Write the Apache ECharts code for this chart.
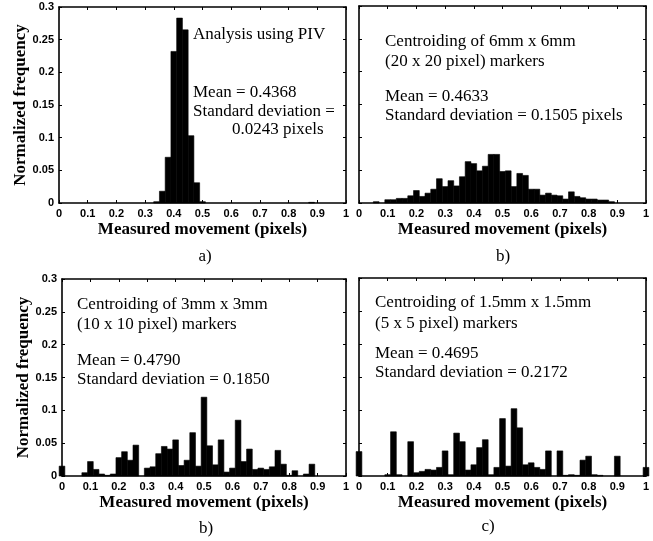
<!DOCTYPE html>
<html>
<head>
<meta charset="utf-8">
<script src="https://cdn.jsdelivr.net/npm/echarts@6/dist/echarts.min.js"></script>
<style>
  html, body { margin: 0; padding: 0; background: #fff; }
  #main { width: 653px; height: 541px; }
</style>
</head>
<body>
<div id="main"></div>
<script>
// histogram bins (centre of bin, normalized frequency)
var pivX = [0.34, 0.36, 0.38, 0.40, 0.42, 0.44, 0.46, 0.48, 0.50, 0.88];
var pivY = [0.002, 0.018, 0.070, 0.232, 0.283, 0.265, 0.103, 0.031, 0.002, 0.001];

var mm6X = [0.06, 0.10, 0.12, 0.14, 0.16, 0.18, 0.20, 0.22, 0.24, 0.26, 0.28, 0.30, 0.32, 0.34, 0.36, 0.38, 0.40,
            0.42, 0.44, 0.46, 0.48, 0.50, 0.52, 0.54, 0.56, 0.58, 0.60, 0.62, 0.64, 0.66, 0.68, 0.70, 0.72, 0.74,
            0.76, 0.78, 0.80, 0.82, 0.84, 0.86, 0.88];
var mm6Y = [0.002, 0.005, 0.005, 0.007, 0.007, 0.011, 0.019, 0.010, 0.015, 0.021, 0.037, 0.025, 0.034, 0.026, 0.040, 0.063, 0.060,
            0.049, 0.056, 0.074, 0.074, 0.048, 0.049, 0.025, 0.045, 0.042, 0.021, 0.021, 0.012, 0.015, 0.012, 0.011, 0.006, 0.017,
            0.010, 0.008, 0.006, 0.006, 0.0045, 0.0045, 0.002];

var mm3X = [0.00, 0.08, 0.10, 0.12, 0.14, 0.16, 0.18, 0.20, 0.22, 0.24, 0.26, 0.30, 0.32, 0.34, 0.36, 0.38, 0.40, 0.42,
            0.44, 0.46, 0.48, 0.50, 0.52, 0.54, 0.56, 0.58, 0.60, 0.62, 0.64, 0.66, 0.68, 0.70, 0.72, 0.74, 0.76, 0.78,
            0.80, 0.82, 0.86, 0.88];
var mm3Y = [0.015, 0.005, 0.022, 0.010, 0.003, 0.001, 0.003, 0.028, 0.037, 0.024, 0.047, 0.012, 0.014, 0.034, 0.045, 0.041, 0.055, 0.016,
            0.024, 0.066, 0.015, 0.120, 0.046, 0.017, 0.055, 0.006, 0.012, 0.085, 0.022, 0.041, 0.010, 0.012, 0.010, 0.014, 0.039, 0.018,
            0.001, 0.008, 0.003, 0.018];

var mm15X = [0.00, 0.10, 0.12, 0.14, 0.18, 0.20, 0.22, 0.24, 0.26, 0.28, 0.30, 0.32, 0.34, 0.36, 0.38, 0.40, 0.42, 0.44,
             0.46, 0.48, 0.50, 0.52, 0.54, 0.56, 0.58, 0.60, 0.62, 0.64, 0.66, 0.70, 0.72, 0.74, 0.76, 0.78, 0.80, 0.82,
             0.84, 0.90, 1.00];
var mm15Y = [0.037, 0.002, 0.067, 0.002, 0.052, 0.005, 0.007, 0.010, 0.009, 0.013, 0.038, 0.002, 0.065, 0.052, 0.009, 0.017, 0.043, 0.055,
             0.002, 0.013, 0.087, 0.015, 0.102, 0.073, 0.017, 0.020, 0.013, 0.010, 0.038, 0.038, 0.001, 0.002, 0.001, 0.024, 0.030, 0.002,
             0.001, 0.030, 0.013];

var BIN = 0.02;
var xName = 'Measured movement (pixels)';
var yName = 'Normalized frequency';

var sans = '"Liberation Sans", Arial, sans-serif';
var serif = '"Liberation Serif", "Times New Roman", serif';

//面板位置
var grids = [
    {left: 59, top: 7, width: 287, height: 196},
    {left: 359, top: 6, width: 287, height: 197},
    {left: 62, top: 279, width: 284, height: 197},
    {left: 359, top: 278, width: 287, height: 198}
];

function renderBar(params, api) {
    var x = api.value(0), y = api.value(1);
    var p0 = api.coord([x - BIN / 2, y]);
    var p1 = api.coord([x + BIN / 2, 0]);
    return {
        type: 'rect',
        shape: {x: p0[0], y: p0[1], width: p1[0] - p0[0], height: p1[1] - p0[1]},
        style: {fill: '#000', stroke: '#000', lineWidth: 0.6}
    };
}

function pairs(xs, ys) {
    return xs.map(function (x, i) { return [x, ys[i]]; });
}

var xAxes = [], yAxes = [], seriesArr = [];
grids.forEach(function (g, i) {
    var frameLine = {show: true, onZero: false, lineStyle: {color: '#000', width: 1.6}};
    var tick = {show: true, inside: true, length: 3, lineStyle: {color: '#000', width: 1}};
    var tickLabel = {fontFamily: sans, fontWeight: 'bold', fontSize: 11, color: '#000', margin: 5};
    xAxes.push({
        type: 'value', gridIndex: i, position: 'bottom', min: 0, max: 1, interval: 0.1,
        axisLine: frameLine, axisTick: tick, splitLine: {show: false},
        axisLabel: tickLabel,
        name: xName, nameLocation: 'middle', nameGap: 18,
        nameTextStyle: {fontFamily: serif, fontWeight: 'bold', fontSize: 17, color: '#000'}
    });
    xAxes.push({
        type: 'value', gridIndex: i, position: 'top', min: 0, max: 1, interval: 0.1,
        axisLine: frameLine, axisTick: tick, splitLine: {show: false}, axisLabel: {show: false}
    });
    yAxes.push({
        type: 'value', gridIndex: i, position: 'left', min: 0, max: 0.3, interval: 0.05,
        axisLine: frameLine, axisTick: tick, splitLine: {show: false},
        axisLabel: Object.assign({show: i % 2 === 0}, tickLabel),
        name: i % 2 === 0 ? yName : '', nameLocation: 'middle', nameGap: 16,
        nameTextStyle: {fontFamily: serif, fontWeight: 'bold', fontSize: 17, color: '#000'}
    });
    yAxes.push({
        type: 'value', gridIndex: i, position: 'right', min: 0, max: 0.3, interval: 0.05,
        axisLine: frameLine, axisTick: tick, splitLine: {show: false}, axisLabel: {show: false}
    });
});

var panelData = [[pivX, pivY], [mm6X, mm6Y], [mm3X, mm3Y], [mm15X, mm15Y]];
panelData.forEach(function (d, i) {
    seriesArr.push({
        type: 'custom',
        xAxisIndex: i * 2,
        yAxisIndex: i * 2,
        renderItem: renderBar,
        clip: false,
        silent: true,
        data: pairs(d[0], d[1])
    });
});

function txt(str, x, y, align) {
    return {
        type: 'text', x: x, y: y, silent: true,
        style: {text: str, font: '17px ' + serif, fill: '#000', align: align || 'left', verticalAlign: 'middle'}
    };
}

//图中的文字说明
var notes = [
    txt('Analysis using PIV', 193, 35),
    txt('Mean = 0.4368', 193, 93),
    txt('Standard deviation =', 193, 112),
    txt('0.0243 pixels', 232, 130),

    txt('Centroiding of 6mm x 6mm', 385, 42),
    txt('(20 x 20 pixel) markers', 385, 62),
    txt('Mean = 0.4633', 385, 97),
    txt('Standard deviation = 0.1505 pixels', 385, 116),

    txt('Centroiding of 3mm x 3mm', 77, 305),
    txt('(10 x 10 pixel) markers', 77, 325),
    txt('Mean = 0.4790', 77, 361),
    txt('Standard deviation = 0.1850', 77, 380),

    txt('Centroiding of 1.5mm x 1.5mm', 375, 303),
    txt('(5 x 5 pixel) markers', 375, 324),
    txt('Mean = 0.4695', 375, 354),
    txt('Standard deviation = 0.2172', 375, 373),

    txt('a)', 205, 257, 'center'),
    txt('b)', 503, 257, 'center'),
    txt('b)', 206, 529, 'center'),
    txt('c)', 488, 527, 'center')
];

var myChart = echarts.init(document.getElementById('main'), null, {renderer: 'canvas'});
var option = {
    animation: false,
    backgroundColor: '#fff',
    grid: grids,
    xAxis: xAxes,
    yAxis: yAxes,
    series: seriesArr,
    graphic: notes
};
myChart.setOption(option);
</script>
</body>
</html>
